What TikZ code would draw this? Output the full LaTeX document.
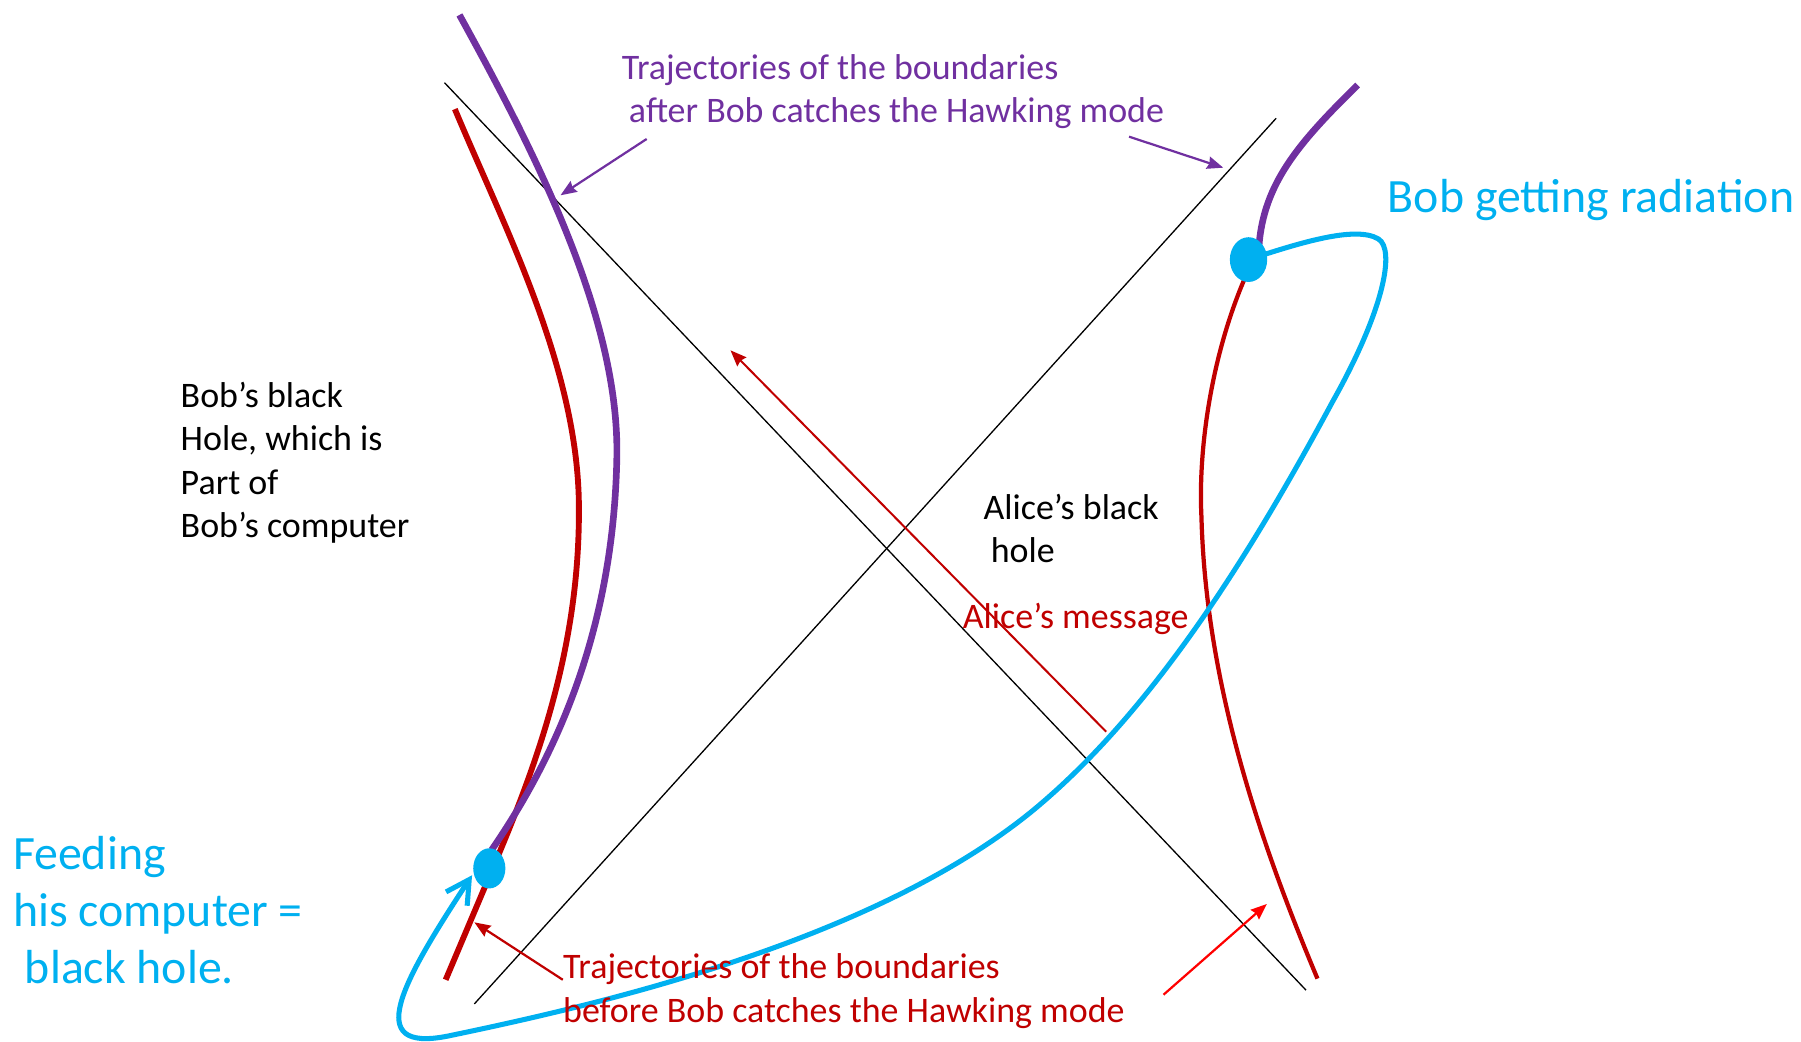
\documentclass[tikz,border=0pt]{standalone}
\usepackage{fontspec}
\setmainfont{Carlito}
\usetikzlibrary{arrows.meta,shapes.geometric}
\definecolor{ppurple}{HTML}{7030A0}
\definecolor{dred}{HTML}{C00000}
\definecolor{bblue}{HTML}{00B0F0}
\definecolor{bred}{HTML}{FF0000}
\begin{document}
\begin{tikzpicture}[x=0.02cm,y=-0.02cm,
  txt/.style={inner sep=0pt, anchor=west, align=left, font=\fontsize{17.8}{21.5}\selectfont},
  bigtxt/.style={inner sep=0pt, anchor=west, align=left, font=\fontsize{23.7}{28.2}\selectfont},
  horizon/.style={draw=black, line width=0.65pt},
  bound/.style={line width=2.9pt},
  feed/.style={draw=bblue, line width=2.5pt},
  thinarrow/.style={line width=1.1pt, -{Stealth[length=0.28cm,width=0.22cm,inset=0.03cm]}},
  dotnode/.style={ellipse, fill=bblue, inner sep=0pt}]
\useasboundingbox (0,0) rectangle (1568,907);

% horizons
\coordinate (h1a) at (387,72);
\coordinate (h1b) at (1137,862);
\coordinate (h2a) at (413,874);
\coordinate (h2b) at (1111,103);
\draw[horizon] (h1a) -- (h1b);
\draw[horizon] (h2a) -- (h2b);

% dots positions
\coordinate (rdc) at (1087,226);
\coordinate (ldc) at (426,756);

% boundaries before (red)
\draw[bound, draw=dred] (396,95) .. controls (440,200) and (503,320) .. (504,440)
  .. controls (505,560) and (470,660) .. (429,756) -- (388,853);
\draw[bound, draw=dred, line width=2.1pt] (1083,244) .. controls (1055,310) and (1043,390) .. (1046,450)
  .. controls (1050,600) and (1100,740) .. (1147,852);

% boundaries after (purple)
\draw[bound, draw=ppurple, line width=3.3pt] (400,13) .. controls (470,140) and (540,280) .. (537,400)
  .. controls (534,540) and (490,650) .. (428,740);
\draw[bound, draw=ppurple, line width=3.3pt] (1182,74) .. controls (1130,125) and (1100,160) .. (1096,215);

% Bob's radiation loop
\draw[feed, -{Straight Barb[length=0.4cm,width=0.44cm,line width=2.5pt]}]
  (rdc) .. controls (1130,212) and (1180,196) .. (1200,208)
  .. controls (1215,217) and (1205,270) .. (1160,350)
  .. controls (1090,480) and (1005,618) .. (900,705)
  .. controls (760,820) and (520,875) .. (390,902)
  .. controls (315,917) and (350,855) .. (411,762);

% dots
\node[dotnode, minimum width=0.65cm, minimum height=0.78cm] (rdot) at (rdc) {};
\node[dotnode, minimum width=0.56cm, minimum height=0.70cm] (ldot) at (ldc) {};

% arrows
\coordinate (pa1s) at (563,121);
\coordinate (pa1e) at (488,170);
\coordinate (pa2s) at (983,119);
\coordinate (pa2e) at (1065,146);
\draw[thinarrow, draw=ppurple, fill=ppurple] (pa1s) -- (pa1e);
\draw[thinarrow, draw=ppurple, fill=ppurple] (pa2s) -- (pa2e);
\coordinate (ms) at (963,637);
\coordinate (me) at (636,305);
\draw[thinarrow, draw=dred, fill=dred, line width=1pt] (ms) -- (me);
\coordinate (ra1s) at (490,853);
\coordinate (ra1e) at (413,803);
\draw[thinarrow, draw=dred, fill=dred] (ra1s) -- (ra1e);
\coordinate (ra2s) at (1013,866);
\coordinate (ra2e) at (1103,787);
\draw[thinarrow, draw=bred, fill=bred] (ra2s) -- (ra2e);

% texts
\node[txt, text=ppurple] (ptitle) at (541,80) {Trajectories of the boundaries\\\hspace*{0.2em}after Bob catches the Hawking mode};
\node[bigtxt, text=bblue] (radiation) at (1208,174) {Bob getting radiation};
\node[txt] (bobbh) at (157,403) {Bob’s black\\Hole, which is\\Part of\\Bob’s computer};
\node[txt] (alicebh) at (856,460) {Alice’s black\\\hspace*{0.2em}hole};
\node[txt, text=dred] (msg) at (838,539) {Alice’s message};
\node[bigtxt, text=bblue] (feedtxt) at (11,792) {Feeding\\his computer =\\\hspace*{0.25em}black hole.};
\node[txt, text=dred] (rtitle) at (490,863) {Trajectories of the boundaries\\before Bob catches the Hawking mode};
\end{tikzpicture}
\end{document}
